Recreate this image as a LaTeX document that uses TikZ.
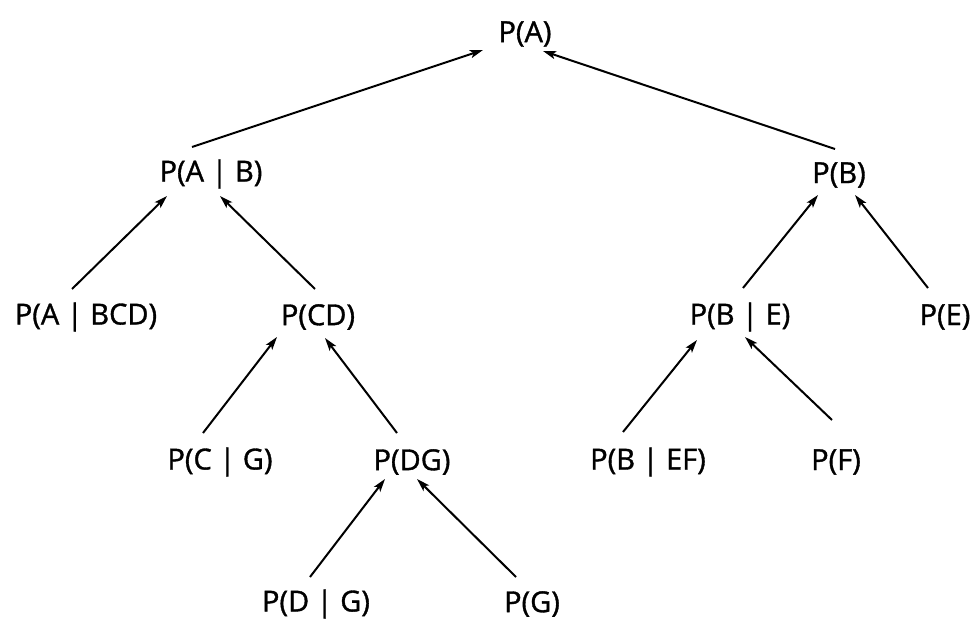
\documentclass[tikz,border=0pt]{standalone}
\usepackage{fontspec}
\setmainfont{Open Sans}
\newfontfamily\lblfont{Open Sans}[RawFeature={embolden=1.2}]
\usetikzlibrary{calc,arrows.meta}
\begin{document}
\begin{tikzpicture}[x=1bp,y=-1bp,
  prob/.style={inner sep=0pt, font=\lblfont\fontsize{29bp}{34bp}\selectfont},
  up/.style={line width=2bp, -{Stealth[length=13bp,width=8bp,inset=3bp]}}]
\useasboundingbox (0,0) rectangle (977,619);
% level 0
\node[prob] (pa)    at (525,34)  {P(A)};
% level 1
\node[prob] (pab)   at (211,174) {P(A | B)};
\node[prob] (pb)    at (839,175) {P(B)};
% level 2
\node[prob] (pabcd) at (86,317)  {P(A | BCD)};
\node[prob] (pcd)   at (318,317) {P(CD)};
\node[prob] (pbe)   at (740,317) {P(B | E)};
\node[prob] (pe)    at (945,317) {P(E)};
% level 3
\node[prob] (pcg)   at (220,462) {P(C | G)};
\node[prob] (pdg)   at (412,462) {P(DG)};
\node[prob] (pbef)  at (648,462) {P(B | EF)};
\node[prob] (pf)    at (836,462) {P(F)};
% level 4
\node[prob] (pdgc)  at (316,604) {P(D | G)};
\node[prob] (pg)    at (532,604) {P(G)};
% arrows point from each factor up to the term it builds
\draw[up] ($(pab)+(-19,-27)$)   -- ($(pa)+(-42,16)$);
\draw[up] ($(pb)+(-4,-26)$)     -- ($(pa)+(18,17)$);
\draw[up] ($(pabcd)+(-14,-28)$) -- ($(pab)+(-44,22)$);
\draw[up] ($(pcd)+(-3,-28)$)    -- ($(pab)+(9,22)$);
\draw[up] ($(pcg)+(-17,-29)$)   -- ($(pcd)+(-41,20)$);
\draw[up] ($(pdg)+(-15,-29)$)   -- ($(pcd)+(7,21)$);
\draw[up] ($(pdgc)+(-6,-27)$)   -- ($(pdg)+(-27,17)$);
\draw[up] ($(pg)+(-16,-27)$)    -- ($(pdg)+(5,17)$);
\draw[up] ($(pbe)+(3,-29)$)     -- ($(pb)+(-21,20)$);
\draw[up] ($(pe)+(-17,-29)$)    -- ($(pb)+(16,20)$);
\draw[up] ($(pbef)+(-25,-30)$)  -- ($(pbe)+(-43,23)$);
\draw[up] ($(pf)+(-4,-42)$)     -- ($(pbe)+(5,20)$);
\end{tikzpicture}
\end{document}
